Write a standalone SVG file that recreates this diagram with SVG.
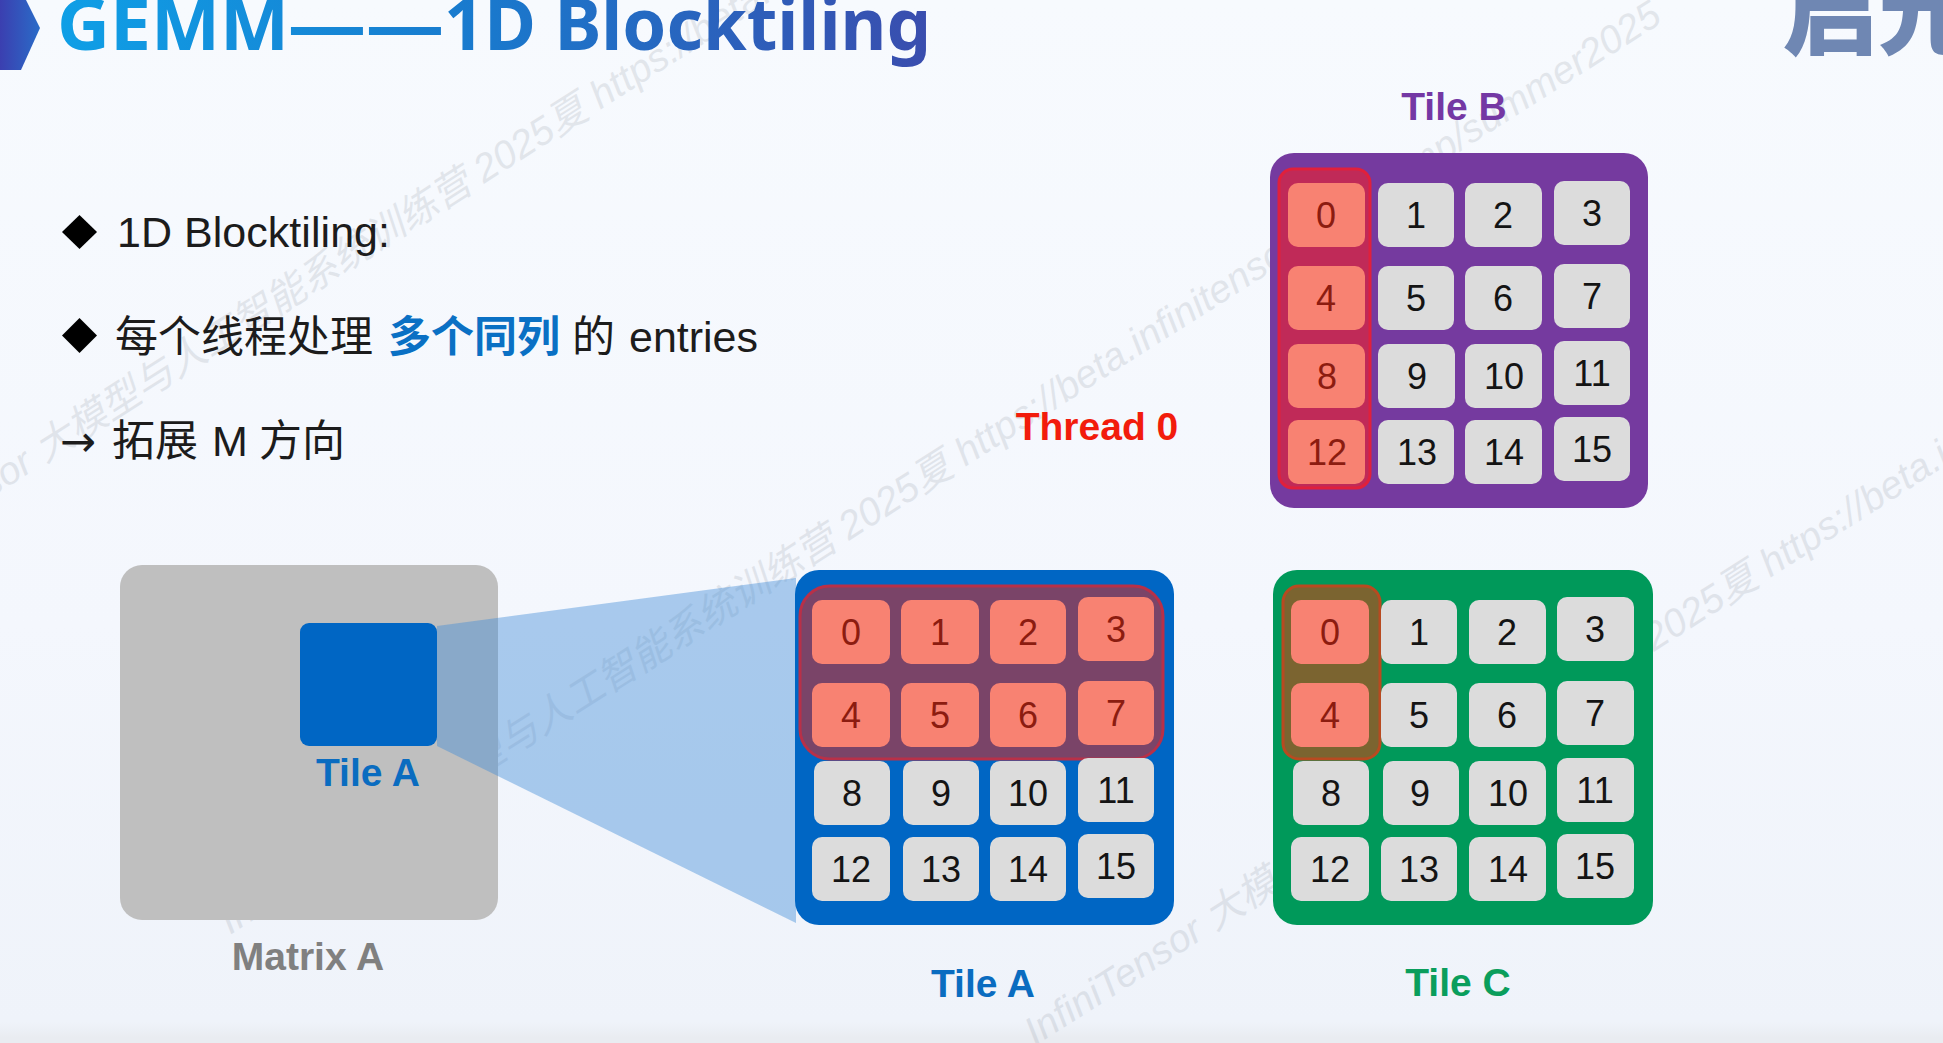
<svg xmlns="http://www.w3.org/2000/svg" width="1943" height="1043" viewBox="0 0 1943 1043">
<style>
text{font-family:"Liberation Sans","Noto Sans CJK SC",sans-serif}
.wm{font-size:39px;font-style:italic;fill:#7d8794;opacity:.17}
.lbl{font-size:39px;font-weight:700;text-anchor:middle}
.body{font-size:43px;fill:#1c1c1c}
.ttl{font-size:72px;font-weight:700;fill:url(#tg);font-family:"Noto Sans","Noto Sans CJK SC",sans-serif}
.c{fill:#dcdcdc}
.h{fill:#f88272}
.n{font-size:36px;text-anchor:middle;fill:#141414}
.r{font-size:36px;text-anchor:middle;fill:#8c1c10}
</style>
<defs>
<linearGradient id="bg" x1="0" y1="0" x2="0" y2="1"><stop offset="0" stop-color="#f7fafe"/><stop offset=".6" stop-color="#f4f7fd"/><stop offset=".98" stop-color="#eff3fa"/><stop offset=".995" stop-color="#e9ecf1"/><stop offset="1" stop-color="#e9ecf1"/></linearGradient>
<linearGradient id="tg" gradientUnits="userSpaceOnUse" x1="60" y1="0" x2="930" y2="0"><stop offset="0" stop-color="#0f9fe6"/><stop offset=".5" stop-color="#1a78cc"/><stop offset="1" stop-color="#3a4dae"/></linearGradient>
<linearGradient id="hx" x1="0" y1="0" x2="1" y2="0"><stop offset="0" stop-color="#3b3fb0"/><stop offset="1" stop-color="#2a6cc8"/></linearGradient>
</defs>
<rect width="1943" height="1043" fill="url(#bg)"/>
<g id="watermarks">
<text class="wm" transform="translate(-135 578) rotate(-32.5)" textLength="1700">InfiniTensor 大模型与人工智能系统训练营 2025夏 https://beta.infinitensor.com/camp/summer2025</text>
<text class="wm" transform="translate(230 935) rotate(-32.5)" textLength="1700">InfiniTensor 大模型与人工智能系统训练营 2025夏 https://beta.infinitensor.com/camp/summer2025</text>
<text class="wm" transform="translate(1035 1046) rotate(-32.5)" textLength="1700">InfiniTensor 大模型与人工智能系统训练营 2025夏 https://beta.infinitensor.com/camp/summer2025</text>
</g>
<g id="header">
<polygon points="0,0 26,0 40,28 21,70 0,70" fill="url(#hx)"/>
<text class="ttl" x="57" y="50" textLength="232" lengthAdjust="spacingAndGlyphs">GEMM</text>
<text class="ttl" x="288" y="50" textLength="156" lengthAdjust="spacingAndGlyphs">——</text>
<text class="ttl" x="444" y="50" textLength="487" lengthAdjust="spacingAndGlyphs">1D Blocktiling</text>
<text x="1782" y="47" font-size="96" font-weight="900" fill="#6f87b3" style="font-family:'Noto Sans CJK SC',sans-serif">启元</text>
</g>
<g id="bullets">
<polygon points="79.500,215 97,232 79.500,249 62,232" fill="#000"/>
<text class="body" x="117" y="247" textLength="273">1D Blocktiling:</text>
<polygon points="79.500,318 97,335.500 79.500,353 62,335.500" fill="#000"/>
<text class="body" x="115" y="352">每个线程处理</text>
<text class="body" x="388" y="352" font-weight="700" style="fill:#0a70c4">多个同列</text>
<text class="body" x="572" y="352">的</text>
<text class="body" x="629" y="352" textLength="129">entries</text>
<text class="body" x="60" y="456" style="font-family:'DejaVu Sans',sans-serif">→</text>
<text class="body" x="112" y="456">拓展</text>
<text class="body" x="212" y="456">M</text>
<text class="body" x="259" y="456">方向</text>
</g>
<g id="matrix-a">
<rect x="120" y="565" width="378" height="355" rx="22" fill="#bfbfbf"/>
<rect x="300" y="623" width="137" height="123" rx="9" fill="#0066c4"/>
<text class="lbl" x="368" y="786" fill="#0a6cc0">Tile A</text>
<text class="lbl" x="308" y="970" fill="#808080">Matrix A</text>
</g>
<g id="connectors">
<polygon points="437,626 796,578 796,923 437,746" fill="#3d8bd6" fill-opacity=".42"/>
</g>
<g id="tile-a">
<rect x="795" y="570" width="379" height="355" rx="24" fill="#0066c4"/>
<rect x="800" y="586" width="363" height="173" rx="30" fill="#7a4468" stroke="#b83048" stroke-width="3"/>
<rect class="h" x="812" y="600" width="78" height="64" rx="10"/><text class="r" x="851" y="645">0</text>
<rect class="h" x="901" y="600" width="78" height="64" rx="10"/><text class="r" x="940" y="645">1</text>
<rect class="h" x="990" y="600" width="76" height="64" rx="10"/><text class="r" x="1028" y="645">2</text>
<rect class="h" x="1078" y="597" width="76" height="64" rx="10"/><text class="r" x="1116" y="642">3</text>
<rect class="h" x="812" y="683" width="78" height="64" rx="10"/><text class="r" x="851" y="728">4</text>
<rect class="h" x="901" y="683" width="78" height="64" rx="10"/><text class="r" x="940" y="728">5</text>
<rect class="h" x="990" y="683" width="76" height="64" rx="10"/><text class="r" x="1028" y="728">6</text>
<rect class="h" x="1078" y="681" width="76" height="64" rx="10"/><text class="r" x="1116" y="726">7</text>
<rect class="c" x="814" y="761" width="76" height="64" rx="10"/><text class="n" x="852" y="806">8</text>
<rect class="c" x="903" y="761" width="76" height="64" rx="10"/><text class="n" x="941" y="806">9</text>
<rect class="c" x="990" y="761" width="76" height="64" rx="10"/><text class="n" x="1028" y="806">10</text>
<rect class="c" x="1078" y="758" width="76" height="64" rx="10"/><text class="n" x="1116" y="803">11</text>
<rect class="c" x="812" y="837" width="78" height="64" rx="10"/><text class="n" x="851" y="882">12</text>
<rect class="c" x="903" y="837" width="76" height="64" rx="10"/><text class="n" x="941" y="882">13</text>
<rect class="c" x="990" y="837" width="76" height="64" rx="10"/><text class="n" x="1028" y="882">14</text>
<rect class="c" x="1078" y="834" width="76" height="64" rx="10"/><text class="n" x="1116" y="879">15</text>
<text class="lbl" x="983" y="997" fill="#0a6cc0">Tile A</text>
</g>
<g id="tile-b">
<text class="lbl" x="1454" y="120" fill="#7438a4">Tile B</text>
<rect x="1270" y="153" width="378" height="355" rx="24" fill="#753a9f"/>
<rect x="1279" y="169" width="91" height="319" rx="14" fill="#c02a58" stroke="#e0203c" stroke-width="3"/>
<rect class="h" x="1288" y="183" width="77" height="64" rx="10"/><text class="r" x="1326" y="228">0</text>
<rect class="c" x="1378" y="183" width="76" height="64" rx="10"/><text class="n" x="1416" y="228">1</text>
<rect class="c" x="1465" y="183" width="77" height="64" rx="10"/><text class="n" x="1503" y="228">2</text>
<rect class="c" x="1554" y="181" width="76" height="64" rx="10"/><text class="n" x="1592" y="226">3</text>
<rect class="h" x="1288" y="266" width="77" height="64" rx="10"/><text class="r" x="1326" y="311">4</text>
<rect class="c" x="1378" y="266" width="76" height="64" rx="10"/><text class="n" x="1416" y="311">5</text>
<rect class="c" x="1465" y="266" width="77" height="64" rx="10"/><text class="n" x="1503" y="311">6</text>
<rect class="c" x="1554" y="264" width="76" height="64" rx="10"/><text class="n" x="1592" y="309">7</text>
<rect class="h" x="1288" y="344" width="77" height="64" rx="10"/><text class="r" x="1327" y="389">8</text>
<rect class="c" x="1378" y="344" width="77" height="64" rx="10"/><text class="n" x="1417" y="389">9</text>
<rect class="c" x="1465" y="344" width="77" height="64" rx="10"/><text class="n" x="1504" y="389">10</text>
<rect class="c" x="1554" y="341" width="76" height="64" rx="10"/><text class="n" x="1592" y="386">11</text>
<rect class="h" x="1288" y="420" width="77" height="64" rx="10"/><text class="r" x="1327" y="465">12</text>
<rect class="c" x="1378" y="420" width="76" height="64" rx="10"/><text class="n" x="1417" y="465">13</text>
<rect class="c" x="1465" y="420" width="77" height="64" rx="10"/><text class="n" x="1504" y="465">14</text>
<rect class="c" x="1554" y="417" width="76" height="64" rx="10"/><text class="n" x="1592" y="462">15</text>
</g>
<g id="thread-0"><text class="lbl" x="1097" y="440" fill="#f21c0c">Thread 0</text></g>
<g id="tile-c">
<rect x="1273" y="570" width="380" height="355" rx="24" fill="#00995a"/>
<rect x="1283" y="586" width="97" height="173" rx="16" fill="#7b6430" stroke="#b84a20" stroke-width="3"/>
<rect class="h" x="1291" y="600" width="78" height="64" rx="10"/><text class="r" x="1330" y="645">0</text>
<rect class="c" x="1381" y="600" width="76" height="64" rx="10"/><text class="n" x="1419" y="645">1</text>
<rect class="c" x="1469" y="600" width="77" height="64" rx="10"/><text class="n" x="1507" y="645">2</text>
<rect class="c" x="1557" y="597" width="77" height="64" rx="10"/><text class="n" x="1595" y="642">3</text>
<rect class="h" x="1291" y="683" width="78" height="64" rx="10"/><text class="r" x="1330" y="728">4</text>
<rect class="c" x="1381" y="683" width="76" height="64" rx="10"/><text class="n" x="1419" y="728">5</text>
<rect class="c" x="1469" y="683" width="77" height="64" rx="10"/><text class="n" x="1507" y="728">6</text>
<rect class="c" x="1557" y="681" width="77" height="64" rx="10"/><text class="n" x="1595" y="726">7</text>
<rect class="c" x="1293" y="761" width="76" height="64" rx="10"/><text class="n" x="1331" y="806">8</text>
<rect class="c" x="1383" y="761" width="76" height="64" rx="10"/><text class="n" x="1420" y="806">9</text>
<rect class="c" x="1469" y="761" width="77" height="64" rx="10"/><text class="n" x="1508" y="806">10</text>
<rect class="c" x="1557" y="758" width="77" height="64" rx="10"/><text class="n" x="1595" y="803">11</text>
<rect class="c" x="1291" y="837" width="78" height="64" rx="10"/><text class="n" x="1330" y="882">12</text>
<rect class="c" x="1381" y="837" width="76" height="64" rx="10"/><text class="n" x="1419" y="882">13</text>
<rect class="c" x="1469" y="837" width="77" height="64" rx="10"/><text class="n" x="1508" y="882">14</text>
<rect class="c" x="1557" y="834" width="77" height="64" rx="10"/><text class="n" x="1595" y="879">15</text>
<text class="lbl" x="1458" y="996" fill="#0a9e5c">Tile C</text>
</g>
</svg>
